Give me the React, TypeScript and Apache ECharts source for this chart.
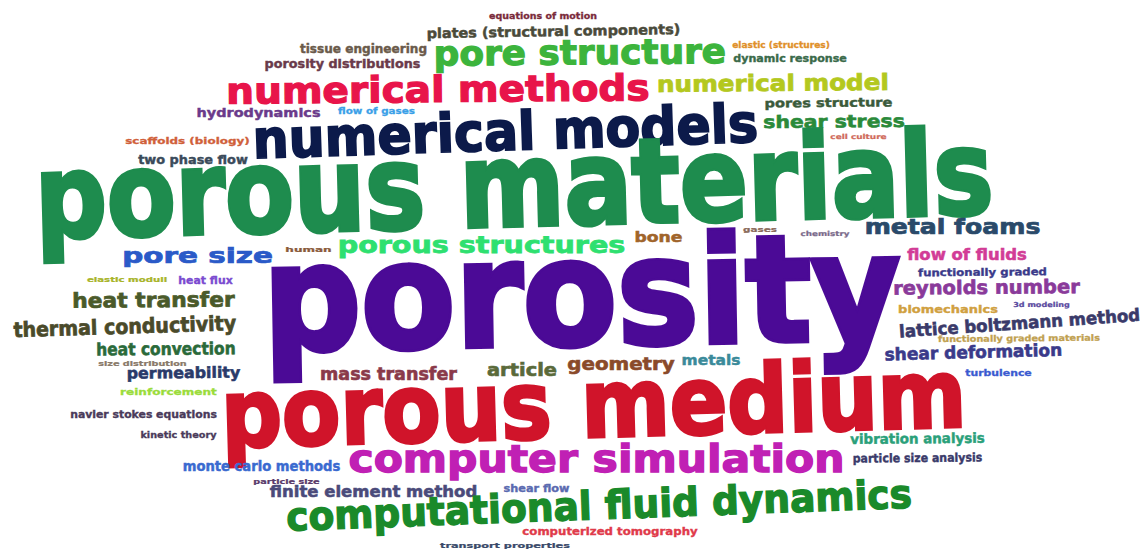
import React, { useEffect, useRef } from "react";
import * as echarts from "echarts";

// Word cloud terms
const words = [
  "equations of motion", "plates (structural components)", "tissue engineering", "pore structure",
  "elastic (structures)", "dynamic response", "porosity distributions", "numerical methods",
  "numerical model", "hydrodynamics", "flow of gases", "pores structure", "numerical models",
  "shear stress", "scaffolds (biology)", "cell culture", "two phase flow", "porous materials",
  "metal foams", "pore size", "human", "porous structures", "bone", "gases", "chemistry",
  "porosity", "flow of fluids", "elastic moduli", "heat flux", "functionally graded",
  "heat transfer", "reynolds number", "biomechanics", "3d modeling", "thermal conductivity",
  "lattice boltzmann method", "functionally graded materials", "heat convection",
  "shear deformation", "size distribution", "permeability", "mass transfer", "article",
  "geometry", "metals", "reinforcement", "turbulence", "porous medium", "navier stokes equations",
  "kinetic theory", "vibration analysis", "computer simulation", "particle size analysis",
  "monte carlo methods", "particle size", "finite element method", "shear flow",
  "computational fluid dynamics", "computerized tomography", "transport properties",
];

// x-height of each word in the picture (its weight)
const xHeights = [
  5, 8, 7, 20, 5, 6, 7, 21, 13, 7, 5, 7, 31, 10, 5, 4, 7, 68, 12, 12, 4, 13, 8, 4, 4,
  86, 9, 4, 6, 6, 12, 11, 6, 4, 12, 10, 5, 10, 10, 4, 9, 10, 10, 10, 8, 5, 5, 55, 6,
  5, 8, 22, 7, 8, 4, 9, 6, 23, 6, 4,
];

// layout: left edge, right edge, baseline, tilt (deg)
const lefts = [
  489, 427, 300, 435, 732, 733, 265, 228, 658, 197, 338, 765, 255, 763, 125, 830, 138, 40,
  865, 123, 285, 338, 635, 743, 800, 268, 907, 87, 178, 918, 72, 893, 898, 1013, 13, 900,
  938, 97, 885, 98, 127, 320, 487, 567, 682, 120, 965, 227, 70, 140, 850, 350, 853, 183,
  253, 270, 503, 287, 522, 440,
];
const rights = [
  597, 680, 427, 725, 830, 847, 420, 648, 888, 320, 415, 892, 757, 905, 250, 887, 248, 990,
  1040, 272, 332, 625, 682, 777, 850, 897, 1027, 167, 233, 1047, 235, 1080, 998, 1070, 237, 1140,
  1100, 235, 1062, 187, 240, 457, 557, 675, 740, 217, 1032, 962, 217, 217, 985, 843, 982, 340,
  320, 477, 570, 912, 698, 570,
];
const baselines = [
  19, 36, 53, 64, 48, 62, 68, 102, 91, 117, 114, 107, 150, 127, 144, 139, 164, 226,
  234, 263, 252, 253, 242, 232, 236, 345, 260, 282, 284, 276, 307, 294, 313, 307, 334, 329,
  341, 355, 358, 366, 378, 380, 376, 370, 365, 395, 376, 437, 418, 438, 443, 472, 462, 471,
  484, 497, 492, 519, 535, 548,
];
const tilts = [
  0, 1, 0, 0.5, 0, 0, 0, 0.5, 0.5, 0, 0, 0.5, 1.9, 0.5, 0, 0, 0, 1.5, 0, 0, 0, 0, 0, 0, 0,
  1, 0, 0, 0, 0.5, 0.5, 0.5, 0, 0, 1.8, 4, 0.5, 0.5, 1.5, 0, 0.5, 0, 0, 0, 0, 0, 0, 1.6, 0,
  0, 0.5, 0, 0.5, 0, 0, 0, 0, 2.1, 0, 0,
];

const colors = [
  "#7a2a3a", "#4a4a3a", "#6a5a4a", "#3cb43c", "#e0902a", "#3a6a4a", "#6a3a4a", "#e8144a",
  "#b4c81e", "#6a3a8a", "#3aa0e8", "#3a5a3a", "#0c1a4a", "#2a8a3a", "#d0603a", "#d06a5a",
  "#3a4a5a", "#1e8c4e", "#2a4a6a", "#2a5ac8", "#8a5a3a", "#2ee070", "#a0642a", "#8a6a5a",
  "#7a6a8a", "#4b0a96", "#d23c96", "#a8b42a", "#7a4ad0", "#3a3a8a", "#4a5a2a", "#8a3a9a",
  "#d0a040", "#5a4aa0", "#4a4a2a", "#3a3a6a", "#c0a050", "#2a6a3a", "#3a3a8a", "#8a7a6a",
  "#2a3a6a", "#8a3a4a", "#5a6a3a", "#8a4a2a", "#3a8a9a", "#9adc3a", "#3a5ad0", "#d0142a",
  "#4a3a5a", "#4a3a5a", "#2aa07a", "#c020b4", "#3a3a6a", "#3a6ad0", "#5a3a6a", "#4a4a7a",
  "#5a6ab0", "#1a8a2a", "#e03a4a", "#3a4a6a",
];

const FONT = '"DejaVu Sans", "Liberation Sans", sans-serif';
const X_RATIO = 0.547; // x-height / em
const CENTRAL = 0.346; // central baseline above alphabetic, in em
const HEAVY = 0.035; // extra stroke weight, in em

export default function App() {
  const ref = useRef<HTMLDivElement>(null);
  useEffect(() => {
    document.body.style.margin = "0";
    if (!ref.current) return;
    const chart = echarts.init(ref.current, undefined, { renderer: "svg" });
    const canvas = document.createElement("canvas");
    const ctx = canvas.getContext("2d")!;
    const inkWidth = (text: string, fs: number) => {
      ctx.font = `bold ${fs}px ${FONT}`;
      const m = ctx.measureText(text);
      const w = (m.actualBoundingBoxLeft || 0) + (m.actualBoundingBoxRight || 0);
      return w > 0 ? w : m.width;
    };
    const data = words.map((w, i) => [(lefts[i] + rights[i]) / 2, baselines[i], i]);
    chart.setOption({
      animation: false,
      backgroundColor: "#ffffff",
      grid: { left: 0, right: 0, top: 0, bottom: 0 },
      xAxis: { type: "value", min: 0, max: 1141, show: false },
      yAxis: { type: "value", min: 0, max: 551, inverse: true, show: false },
      series: [
        {
          type: "custom",
          coordinateSystem: "cartesian2d",
          clip: false,
          data,
          renderItem: (params: any, api: any) => {
            const i = params.dataIndex;
            const p = api.coord([api.value(0), api.value(1)]);
            const pl = api.coord([lefts[i], 0]);
            const pr = api.coord([rights[i], 0]);
            const fs = xHeights[i] / (X_RATIO + HEAVY);
            const lw = HEAVY * fs;
            const target = pr[0] - pl[0];
            const sx = target / (inkWidth(words[i], fs) + lw);
            return {
              type: "text",
              x: p[0],
              y: p[1],
              rotation: (tilts[i] * Math.PI) / 180,
              scaleX: sx,
              style: {
                text: words[i],
                x: 0,
                y: -CENTRAL * fs,
                fontSize: fs,
                fontWeight: "bold",
                fontFamily: FONT,
                fill: colors[i],
                stroke: colors[i],
                lineWidth: lw,
                lineJoin: "round",
                align: "center",
                verticalAlign: "middle",
              },
            };
          },
        },
      ],
    });
    return () => chart.dispose();
  }, []);
  return <div ref={ref} style={{ width: 1141, height: 551 }} />;
}
